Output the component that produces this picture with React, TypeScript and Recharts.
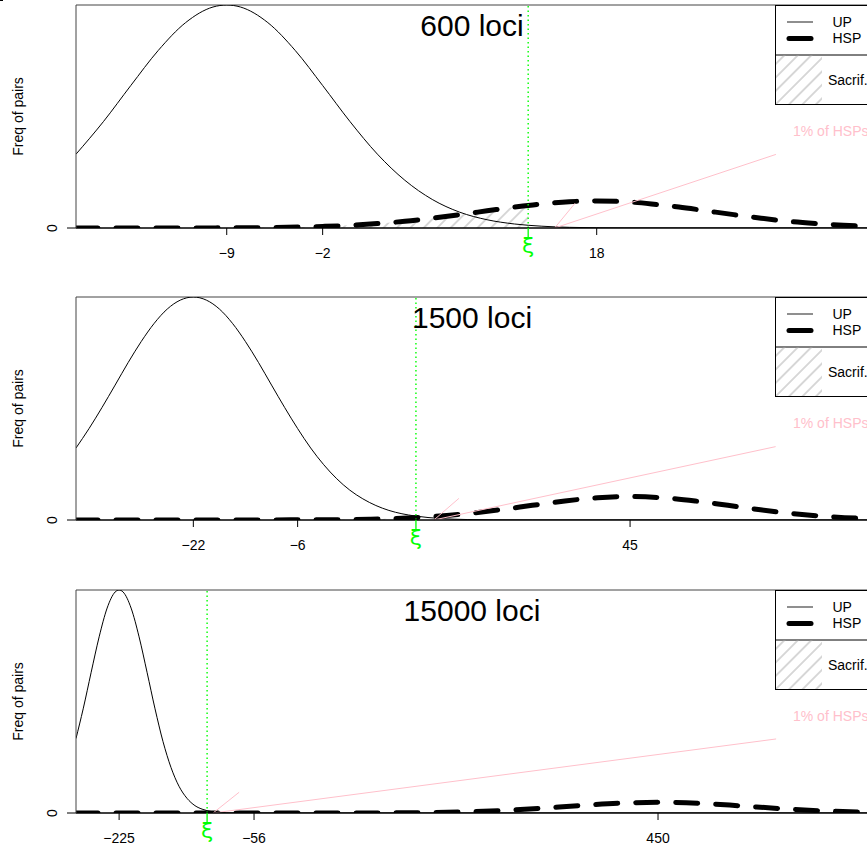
import React from "react";
import { ComposedChart, Line, Area, XAxis, YAxis, ReferenceLine } from "recharts";

// 600 loci
const upX600 = [-20, -18, -16, -14, -12, -10, -9, -8, -6, -4, -2, 0, 2, 4, 6, 8, 10, 12, 14, 16, 18, 20, 24, 30, 37.8];
const upY600 = [0.331, 0.477, 0.639, 0.796, 0.921, 0.991, 1, 0.991, 0.921, 0.796, 0.639, 0.477, 0.331, 0.214, 0.128, 0.071, 0.037, 0.018, 0.008, 0.003, 0.001, 0.0004, 0, 0, 0];
const hspX600 = [-20, -14, -10, -6, -2, 0, 2, 4, 6, 8, 10, 12, 13, 14, 16, 18, 20, 22, 24, 26, 28, 30, 32, 34, 36, 37.8];
const hspY600 = [0, 0.0001, 0.0005, 0.002, 0.007, 0.012, 0.02, 0.03, 0.044, 0.06, 0.077, 0.094, 0.101, 0.108, 0.118, 0.121, 0.118, 0.108, 0.094, 0.077, 0.06, 0.044, 0.03, 0.02, 0.012, 0.008];
const sacX600 = [-20, -14, -10, -6, -2, 0, 2, 4, 6, 8, 10, 12, 13];
const sacY600 = [0, 0.0001, 0.0005, 0.002, 0.007, 0.012, 0.02, 0.03, 0.044, 0.06, 0.077, 0.094, 0.101];
const ticks600 = [-9, -2, 18];
const xi600 = 13;

// 1500 loci
const upX1500 = [-40, -38, -36, -34, -32, -30, -28, -26, -24, -22, -20, -18, -16, -14, -12, -10, -8, -6, -4, -2, 0, 2, 4, 6, 8, 10, 12, 16, 20, 24, 30, 81.5];
const upY1500 = [0.323, 0.41, 0.505, 0.605, 0.706, 0.8, 0.882, 0.946, 0.986, 1, 0.986, 0.946, 0.882, 0.8, 0.706, 0.605, 0.505, 0.41, 0.323, 0.248, 0.185, 0.134, 0.095, 0.065, 0.043, 0.028, 0.018, 0.0065, 0.0021, 0.0006, 0, 0];
const hspX1500 = [-40, -20, 0, 5, 10, 15, 20, 25, 30, 35, 40, 45, 50, 55, 60, 65, 70, 75, 80, 81.5];
const hspY1500 = [0, 0, 0.0015, 0.0037, 0.0082, 0.0161, 0.0286, 0.0456, 0.0657, 0.0853, 0.0997, 0.105, 0.0997, 0.0853, 0.0657, 0.0456, 0.0286, 0.0161, 0.0082, 0.0068];
const sacX1500 = [-40, -20, 0, 5, 10, 12.15];
const sacY1500 = [0, 0, 0.0015, 0.0037, 0.0082, 0.0108];
const ticks1500 = [-22, -6, 45];
const xi1500 = 12.15;

// 15000 loci
const upX15000 = [-279, -270, -260, -250, -240, -230, -225, -220, -210, -200, -190, -180, -170, -160, -150, -140, -130, -120, -110, -100, -90, -80, -60, 0, 713];
const upY15000 = [0.334, 0.467, 0.631, 0.79, 0.919, 0.991, 1, 0.991, 0.919, 0.79, 0.631, 0.467, 0.32, 0.204, 0.12, 0.066, 0.033, 0.016, 0.007, 0.003, 0.001, 0.0004, 0, 0, 0];
const hspX15000 = [-279, 0, 100, 150, 200, 250, 300, 350, 400, 450, 500, 550, 600, 650, 700, 713];
const hspY15000 = [0, 0, 0.0005, 0.0016, 0.0045, 0.0106, 0.0205, 0.0329, 0.0437, 0.048, 0.0437, 0.0329, 0.0205, 0.0106, 0.0045, 0.0036];
const sacX15000 = [-279, -114.8];
const sacY15000 = [0, 0];
const ticks15000 = [-225, -56, 450];
const xi15000 = -114.8;

const FONT = "'Liberation Sans', Arial, Helvetica, sans-serif";

const zip = (xs: number[], ys: number[]) => xs.map((x, i) => ({ x, y: ys[i] }));

const panels = [
  {
    title: "600 loci",
    top: 0,
    domain: [-20, 37.8],
    ticks: ticks600,
    xi: xi600,
    up: zip(upX600, upY600),
    hsp: zip(hspX600, hspY600),
    sac: zip(sacX600, sacY600),
    arrow: { tail: { x: 31.08, y: 0.33 }, tip: { x: 14.93, y: 0 }, head: { x: 16.42, y: 0.111 } },
  },
  {
    title: "1500 loci",
    top: 292,
    domain: [-40, 81.5],
    ticks: ticks1500,
    xi: xi1500,
    up: zip(upX1500, upY1500),
    hsp: zip(hspX1500, hspY1500),
    sac: zip(sacX1500, sacY1500),
    arrow: { tail: { x: 67.33, y: 0.329 }, tip: { x: 14.9, y: 0 }, head: { x: 18.74, y: 0.097 } },
  },
  {
    title: "15000 loci",
    top: 585,
    domain: [-279, 713],
    ticks: ticks15000,
    xi: xi15000,
    up: zip(upX15000, upY15000),
    hsp: zip(hspX15000, hspY15000),
    sac: zip(sacX15000, sacY15000),
    arrow: { tail: { x: 597.9, y: 0.332 }, tip: { x: -107.3, y: 0 }, head: { x: -74.7, y: 0.093 } },
  },
];

const fmt = (v: number) => (v < 0 ? "\u2212" + Math.abs(v) : String(v));

function XTick(props: any) {
  const { x, y, payload, xi } = props;
  if (payload.value === xi) {
    return (
      <g>
        <line x1={x} x2={x} y1={y} y2={y + 9} stroke="#00ff00" strokeWidth={1.3} />
        <text x={x} y={y + 25} textAnchor="middle" fill="#00ff00" fontSize={22} fontFamily="'DejaVu Sans', sans-serif">
          ξ
        </text>
      </g>
    );
  }
  return (
    <g>
      <line x1={x} x2={x} y1={y} y2={y + 7} stroke="#000" />
      <text x={x} y={y + 30} textAnchor="middle" fill="#000" fontSize={14} fontFamily={FONT}>
        {fmt(payload.value)}
      </text>
    </g>
  );
}

function YTick(props: any) {
  const { x, y, payload } = props;
  const tx = x - 19.5;
  return (
    <g>
      <line x1={x - 9} x2={x} y1={y} y2={y} stroke="#000" />
      <text x={tx} y={y} transform={`rotate(-90 ${tx} ${y})`} textAnchor="middle" fill="#000" fontSize={14} fontFamily={FONT}>
        {payload.value}
      </text>
    </g>
  );
}

function Panel({ p }: { p: (typeof panels)[number] }) {
  const allTicks = [...p.ticks, p.xi].sort((a, b) => a - b);
  return (
    <div style={{ position: "absolute", left: 0, top: p.top, width: 880, height: 292 }}>
      <ComposedChart width={880} height={292} margin={{ top: 5, right: 12, bottom: 0, left: 0 }}>
        <XAxis
          type="number"
          dataKey="x"
          domain={p.domain}
          allowDataOverflow
          ticks={allTicks}
          interval={0}
          height={64}
          tickLine={false}
          tickSize={0}
          tickMargin={0}
          axisLine={{ stroke: "#000", strokeWidth: 1.5 }}
          tick={(t: any) => <XTick {...t} xi={p.xi} />}
        />
        <YAxis
          type="number"
          domain={[0, 1]}
          allowDataOverflow
          ticks={[0]}
          width={76}
          tickLine={false}
          tickSize={0}
          tickMargin={0}
          axisLine={{ stroke: "#444" }}
          tick={(t: any) => <YTick {...t} />}
        />
        <ReferenceLine y={1} stroke="#444" />
        <Area
          data={p.sac}
          dataKey="y"
          type="monotone"
          stroke="none"
          fill="url(#hatch)"
          fillOpacity={1}
          baseValue={0}
          isAnimationActive={false}
        />
        <Line
          data={p.up}
          dataKey="y"
          type="monotone"
          stroke="#000"
          strokeWidth={1}
          dot={false}
          activeDot={false}
          isAnimationActive={false}
        />
        <Line
          data={p.hsp}
          dataKey="y"
          type="monotone"
          stroke="#000"
          strokeWidth={5}
          strokeDasharray="22 18"
          strokeLinecap="round"
          dot={false}
          activeDot={false}
          isAnimationActive={false}
        />
        <ReferenceLine x={p.xi} stroke="#00ff00" strokeWidth={1.4} strokeDasharray="1.5 3" />
        <ReferenceLine segment={[p.arrow.tail, p.arrow.tip]} stroke="pink" />
        <ReferenceLine segment={[p.arrow.tip, p.arrow.head]} stroke="pink" />
      </ComposedChart>
      <svg width={880} height={292} style={{ position: "absolute", left: 0, top: 0, pointerEvents: "none" }}>
        <text x={22.5} y={116.5} transform="rotate(-90 22.5 116.5)" textAnchor="middle" fontSize={14} fontFamily={FONT}>
          Freq of pairs
        </text>
        <text x={472} y={35.5} textAnchor="middle" fontSize={30} fontFamily={FONT}>
          {p.title}
        </text>
        <rect x={775.5} y={5.5} width={120} height={99} fill="#fff" stroke="#000" />
        <line x1={775.5} x2={880} y1={55} y2={55} stroke="#000" />
        <line x1={787} x2={813} y1={22} y2={22} stroke="#444" strokeWidth={1.2} />
        <line x1={789} x2={811} y1={38.5} y2={38.5} stroke="#000" strokeWidth={5} strokeLinecap="round" />
        <text x={832.5} y={26.5} fontSize={14} fontFamily={FONT}>UP</text>
        <text x={832.5} y={43} fontSize={14} fontFamily={FONT}>HSP</text>
        <rect x={776} y={55.5} width={46} height={48.5} fill="url(#hatch)" />
        <text x={828} y={85} fontSize={14} fontFamily={FONT}>Sacrif.</text>
        <text x={793} y={135.5} fontSize={14} fill="pink" fontFamily={FONT}>1% of HSPs</text>
      </svg>
    </div>
  );
}

export default function App() {
  return (
    <div
      style={{
        position: "absolute",
        left: 0,
        top: 0,
        width: 867,
        height: 848,
        overflow: "hidden",
        background: "#fff",
        fontFamily: FONT,
      }}
    >
      <svg width={0} height={0} style={{ position: "absolute" }}>
        <defs>
          <pattern id="hatch" patternUnits="userSpaceOnUse" width={9.5} height={9.5} patternTransform="rotate(45)">
            <line x1={4.75} x2={4.75} y1={0} y2={9.5} stroke="#b8b8b8" strokeWidth={1.1} />
          </pattern>
        </defs>
      </svg>
      <div style={{ position: "absolute", left: 0, top: 0, width: 3, height: 1, background: "#000" }} />
      {panels.map((p) => (
        <Panel key={p.title} p={p} />
      ))}
    </div>
  );
}
